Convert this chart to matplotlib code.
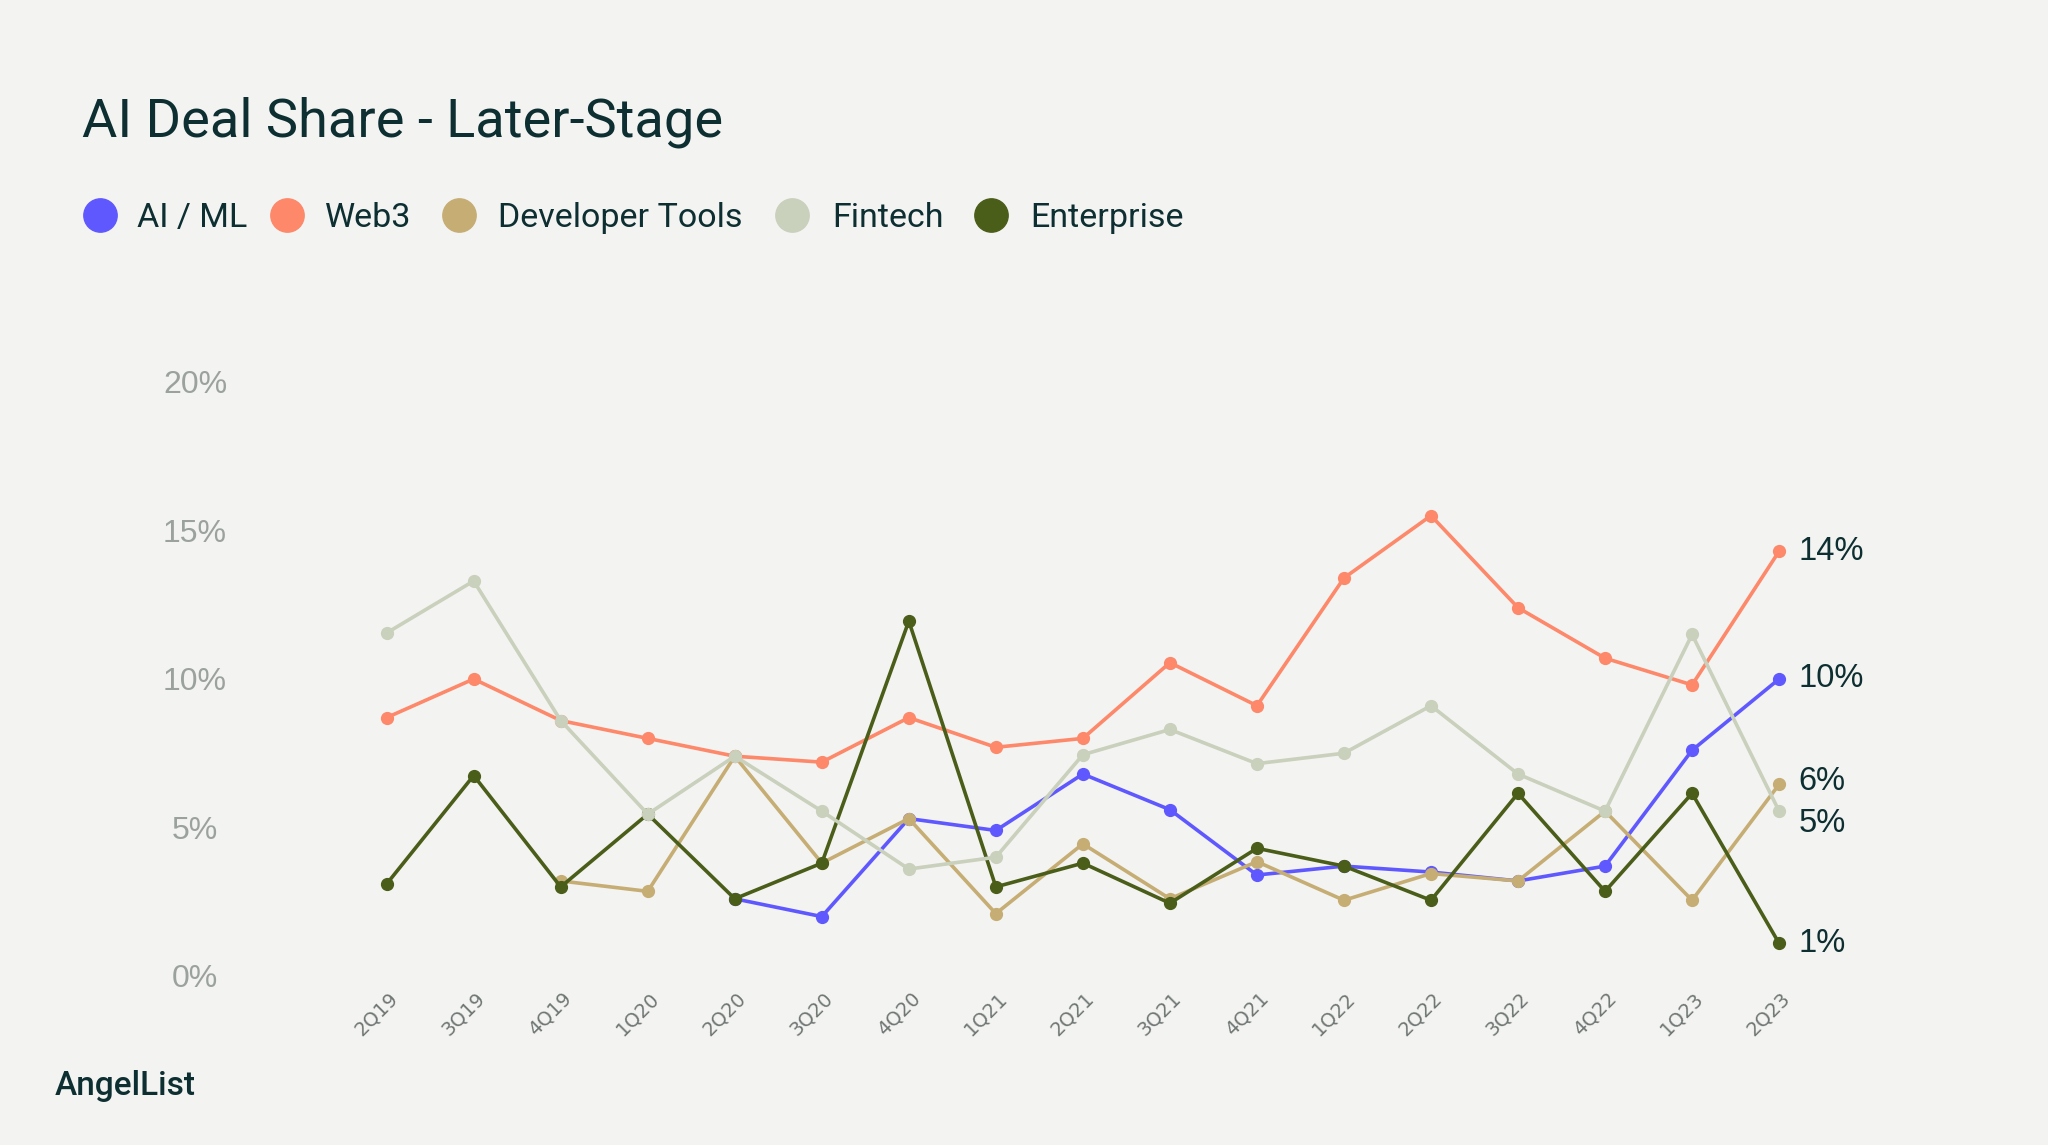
import numpy as np
import matplotlib
matplotlib.use("Agg")
import matplotlib.pyplot as plt
from matplotlib.lines import Line2D
from matplotlib.transforms import ScaledTranslation

quarters = ['2Q19', '3Q19', '4Q19', '1Q20', '2Q20', '3Q20', '4Q20', '1Q21', '2Q21',
            '3Q21', '4Q21', '1Q22', '2Q22', '3Q22', '4Q22', '1Q23', '2Q23']
nan = np.nan
ai_ml = [nan, nan, nan, nan, 2.6, 2.0, 5.3, 4.9, 6.8, 5.6, 3.4, 3.7, 3.5, 3.2, 3.7, 7.6, 10.0]
web3 = [8.7, 10.0, 8.6, 8.0, 7.4, 7.2, 8.7, 7.7, 8.0, 10.55, 9.1, 13.4, 15.5, 12.4, 10.7, 9.8, 14.3]
developer_tools = [nan, nan, 3.2, 2.85, 7.4, 3.8, 5.3, 2.1, 4.45, 2.6, 3.85, 2.55, 3.45, 3.2, 5.55, 2.55, 6.45]
fintech = [11.55, 13.3, 8.6, 5.45, 7.4, 5.55, 3.6, 4.0, 7.45, 8.3, 7.15, 7.5, 9.1, 6.8, 5.55, 11.5, 5.55]
enterprise = [3.1, 6.75, 3.0, 5.45, 2.6, 3.8, 11.95, 3.0, 3.8, 2.45, 4.3, 3.7, 2.55, 6.15, 2.85, 6.15, 1.1]

series_names = ['AI / ML', 'Web3', 'Developer Tools', 'Fintech', 'Enterprise']
series_values = [ai_ml, web3, developer_tools, fintech, enterprise]
end_labels = ['10%', '14%', '6%', '5%', '1%']
y_ticks = [0, 5, 10, 15, 20]
y_tick_labels = ['0%', '5%', '10%', '15%', '20%']

colors = ['#5f58ff', '#fd886a', '#c6ad74', '#c9d0bc', '#4a5e1a']
zorders = [2, 4, 3, 6, 5]
end_offsets = [0, 0, 2, -9, 0]

BG = '#f3f3f1'
DARK = '#0d2f31'

fig = plt.figure(figsize=(20.48, 11.45), dpi=100, facecolor=BG)
ax = fig.add_axes([0.1888, 0.1476, 0.6799, 0.5188], facecolor=BG)

x = np.arange(len(quarters))
for name, vals, c, z in zip(series_names, series_values, colors, zorders):
    ax.plot(x, vals, color=c, lw=2.6, marker='o', ms=8.5, mec=c, mfc=c,
            zorder=z, clip_on=False)

for vals, lab, c, dy in zip(series_values, end_labels, colors, end_offsets):
    ax.annotate(lab, xy=(x[-1], vals[-1]), xytext=(14, dy), textcoords='offset points',
                ha='left', va='center', fontsize=23.5, color=DARK,
                family='Liberation Sans', annotation_clip=False)

ax.set_xlim(0, len(quarters) - 1)
ax.set_ylim(0, 20)
for s in ax.spines.values():
    s.set_visible(False)

ax.set_yticks(y_ticks)
ax.set_yticklabels(y_tick_labels, fontsize=23, color='#9ba29e', family='Liberation Sans')
ax.tick_params(axis='y', length=0, pad=138)
for t in ax.get_yticklabels():
    t.set_ha('center')

ax.set_xticks(x)
ax.set_xticklabels(quarters, rotation=45, ha='right', va='top', fontsize=14,
                   color='#6f7774', family='DejaVu Sans')
ax.tick_params(axis='x', length=0, pad=9)
off = ScaledTranslation(15 / 100, 0, fig.dpi_scale_trans)
for t in ax.get_xticklabels():
    t.set_transform(t.get_transform() + off)

fig.text(0.040, 0.8812, 'AI Deal Share - Later-Stage', fontsize=39, color=DARK,
         family='Roboto', va='baseline', ha='left')

leg_circle_x = [100, 287, 459, 792, 991]
leg_text_x = [137, 325, 498, 832, 1030]
for name, c, cx, tx in zip(series_names, colors, leg_circle_x, leg_text_x):
    fig.add_artist(Line2D([cx / 2048], [1 - 215 / 1145], marker='o', ms=24,
                          mfc=c, mec=c, ls='none', transform=fig.transFigure))
    fig.text(tx / 2048, 1 - 227 / 1145, name, fontsize=24.5, color=DARK,
             family='Roboto', va='baseline', ha='left')

fig.text(55 / 2048, 1 - 1095 / 1145, 'AngelList', fontsize=24, color=DARK,
         family='Roboto', weight='medium', va='baseline', ha='left')

fig.savefig('out.png', dpi=100, facecolor=BG)
